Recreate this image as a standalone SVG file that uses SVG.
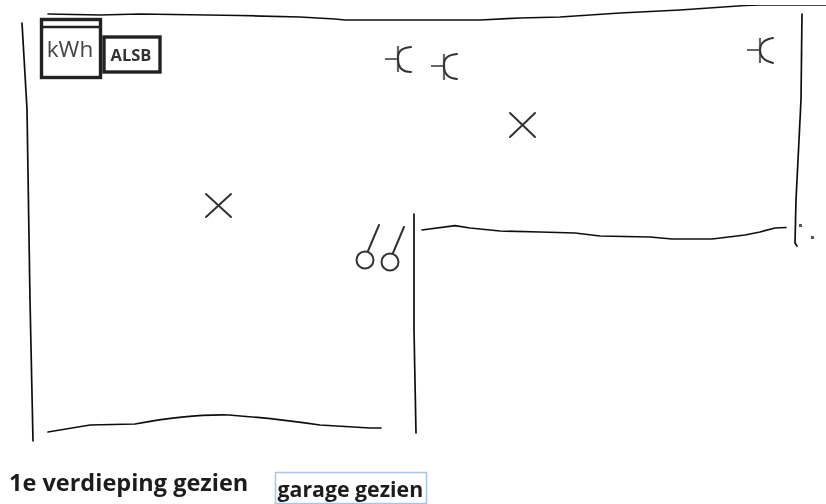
<svg xmlns="http://www.w3.org/2000/svg" width="826" height="504" viewBox="0 0 826 504">
<defs><filter id="soft" x="0" y="0" width="100%" height="100%"><feGaussianBlur stdDeviation="0.45"/></filter></defs>
<style>
.w{fill:none;stroke:#111;stroke-width:1.7;stroke-linecap:round;stroke-linejoin:round}
.s{fill:none;stroke:#333;stroke-width:2;stroke-linecap:round}
.g{fill:none;stroke:#666;stroke-width:2.2}
.b{fill:#fff;stroke:#222;stroke-width:3.4}
text{font-family:"Open Sans","Noto Sans",sans-serif;fill:#1e1e1e}
.l{font-weight:700}
</style>
<rect width="826" height="504" fill="#fff"/>
<g filter="url(#soft)">
<g id="walls">
<path class="w" d="M48 14 L100 15 L140 14 L240 15.500 L300 17 L335 19 L345 20 L400 20 L480 20 L520 18 L560 17 L620 13 L680 10 L745 5.500 L760 5 L826 5"/>
<path class="w" d="M22 23 L27 109 L30 300 L33 441"/>
<path class="w" d="M802 14 L801 100 L796 200 L795 243 L797 246"/>
<path class="w" d="M422 230 L455 225.700 L470 228 L500 231 L540 232 L575 233 L600 236 L650 237 L672 239 L712 239 L745 235 L760 232 L775 228 L786 227.500"/>
<path class="w" d="M414 214 L414 330 L416 433"/>
<path class="w" d="M48 432 L90 425 L135 424 Q190 414 229 415 Q270 418 320 425 L370 428 L381 428"/>
<path d="M799 224h3v3h-3zM811 236h3v3h-3z" fill="#555"/>
</g>
<g id="kwh-meter">
<rect class="b" x="41.500" y="19.500" width="59" height="58"/>
<path d="M41 27H101" stroke="#222" stroke-width="2.600" fill="none"/>
<text x="70" y="57" text-anchor="middle" font-size="22.500" style="fill:#444">kWh</text>
</g>
<g id="alsb">
<rect class="b" x="104" y="37" width="56" height="35"/>
<text x="131" y="61" text-anchor="middle" font-size="16.500" font-weight="700" style="fill:#333">ALSB</text>
</g>
<g id="socket-1"><path class="g" d="M385 59H399M398 46V72"/><path class="s" d="M411 47Q397 48 398 59Q398 72 411 72"/></g>
<g id="socket-2"><path class="g" d="M431 66H445M444 54V80"/><path class="s" d="M457 54Q443 55 444 66Q444 78 457 79"/></g>
<g id="socket-3"><path class="g" d="M747 50H761M760 38V63"/><path class="s" d="M773 38Q760 40 760 50Q760 60 773 63"/></g>
<g id="light-1"><path class="s" d="M510 113L535 137M535 113L510 137"/></g>
<g id="light-2"><path class="s" d="M206 194L231 217M231 194L206 217"/></g>
<g id="switch-1"><circle class="s" cx="365" cy="260" r="8.500"/><path class="s" d="M368 251L379 225"/></g>
<g id="switch-2"><circle class="s" cx="390" cy="262" r="8.500"/><path class="s" d="M393 253L404 227"/></g>
<g id="label-1"><text class="l" x="9" y="491" font-size="23.500">1e verdieping gezien</text></g>
<g id="label-2">
<rect x="275.500" y="472.500" width="151" height="31" fill="#fff" stroke="#a9c4f2" stroke-width="1.500"/>
<text class="l" x="277.500" y="497" font-size="21.300">garage gezien</text>
</g>
</g>
</svg>
